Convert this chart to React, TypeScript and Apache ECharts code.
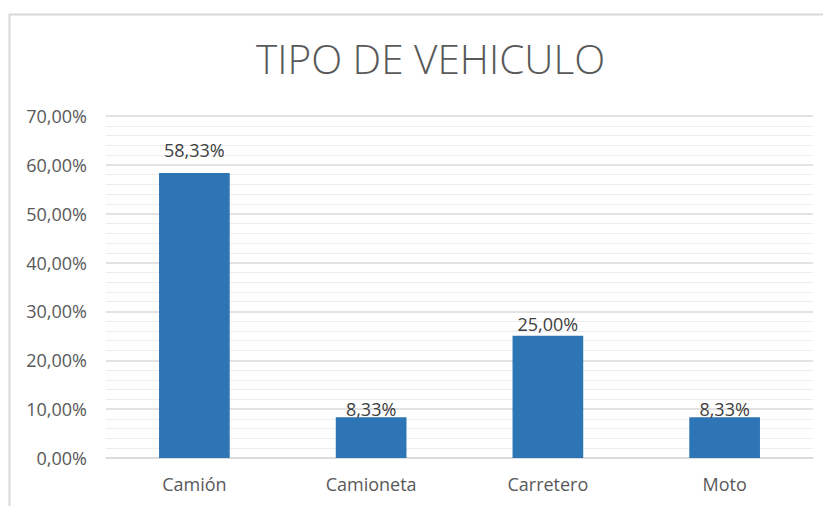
import React, { useEffect, useRef } from "react";
import * as echarts from "echarts";

const categories = ["Camión", "Camioneta", "Carretero", "Moto"];
const values = [58.33, 8.33, 25.0, 8.33];
const titleText = "TIPO DE VEHICULO";
const yMin = 0;
const yMax = 70;
const yInterval = 10;

const fmt = (v: number) => v.toFixed(2).replace(".", ",") + "%";

// per-bar label offsets as placed in the reference
const labelDistances = [14, -1, 3, -1];

export default function App() {
  const ref = useRef<HTMLDivElement>(null);
  useEffect(() => {
    if (!ref.current) return;
    const chart = echarts.init(ref.current, undefined, { renderer: "svg" });
    const font = "Open Sans";
    chart.setOption({
      animation: false,
      backgroundColor: "#ffffff",
      title: {
        text: titleText,
        left: 251,
        top: 33,
        textStyle: { fontFamily: font, fontSize: 40.5, fontWeight: 300, color: "#595959" },
      },
      graphic: [
        {
          type: "rect",
          shape: { x: 9.5, y: 14.5, width: 900, height: 600 },
          style: { fill: "none", stroke: "#d9d9d9", lineWidth: 2 },
          silent: true,
          z: -1,
        },
      ],
      grid: { left: 106, right: 10, top: 116, bottom: 48 },
      xAxis: {
        type: "category",
        data: categories,
        axisLine: { lineStyle: { color: "#d9d9d9", width: 1.5 } },
        axisTick: { show: false },
        axisLabel: { color: "#595959", fontFamily: font, fontSize: 18, margin: 17 },
      },
      yAxis: {
        type: "value",
        min: yMin,
        max: yMax,
        interval: yInterval,
        axisLine: { show: false },
        axisTick: { show: false },
        axisLabel: { color: "#595959", fontFamily: font, fontSize: 18, margin: 19, formatter: (v: number) => fmt(v) },
        splitLine: { lineStyle: { color: "#d9d9d9", width: 1.5 } },
        minorTick: { show: false, splitNumber: 5 },
        minorSplitLine: { show: true, lineStyle: { color: "#ededed", width: 1 } },
      },
      series: [
        {
          type: "bar",
          data: values.map((v, i) => ({ value: v, label: { distance: labelDistances[i] } })),
          barWidth: "40%",
          itemStyle: { color: "#2e75b6" },
          label: {
            show: true,
            position: "top",
            distance: 8,
            color: "#404040",
            fontFamily: font,
            fontSize: 18,
            formatter: (p: any) => fmt(p.value),
          },
        },
      ],
    });
    return () => chart.dispose();
  }, []);
  return (
    <div
      ref={ref}
      style={{ position: "fixed", left: 0, top: 0, width: 823, height: 506 }}
    />
  );
}
